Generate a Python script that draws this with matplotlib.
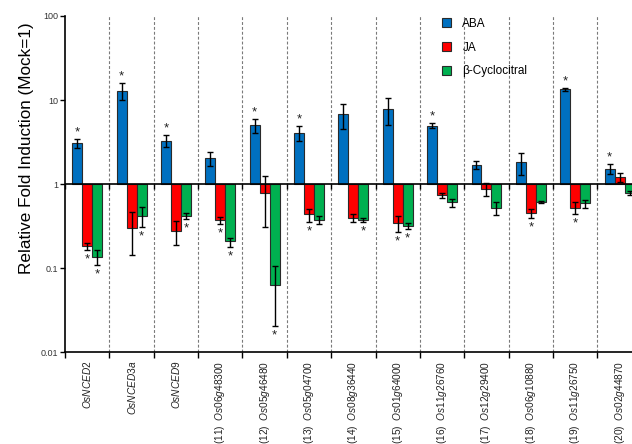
import numpy as np
import matplotlib
matplotlib.use("Agg")
import matplotlib.pyplot as plt
from matplotlib.patches import Patch
from matplotlib.markers import TICKDOWN
from matplotlib.ticker import FixedLocator, NullLocator, FixedFormatter

plt.rcParams['font.family'] = ['Liberation Sans', 'DejaVu Sans']
plt.rcParams['mathtext.fontset'] = 'custom'
plt.rcParams['mathtext.it'] = 'Liberation Sans:italic'
plt.rcParams['mathtext.rm'] = 'Liberation Sans'

# ---- data -------------------------------------------------------------
genes = ['OsNCED2', 'OsNCED3a', 'OsNCED9', 'Os06g48300', 'Os05g46480',
         'Os05g04700', 'Os08g36440', 'Os01g64000', 'Os11g26760',
         'Os12g29400', 'Os06g10880', 'Os11g26750', 'Os02g44870']
gene_nums = ['', '', '', '(11)', '(12)', '(13)', '(14)', '(15)', '(16)',
             '(17)', '(18)', '(19)', '(20)']

aba = [3.05, 12.9, 3.22, 2.02, 5.0, 4.08, 6.76, 7.8, 4.94, 1.70, 1.81, 13.4, 1.51]
aba_hi = [3.40, 15.8, 3.80, 2.40, 6.0, 4.9, 9.0, 10.6, 5.3, 1.89, 2.36, 13.9, 1.71]
aba_lo = [2.68, 10.0, 2.78, 1.64, 4.0, 3.27, 4.5, 5.1, 4.6, 1.51, 1.28, 12.9, 1.31]
aba_sig = [1, 1, 1, 0, 1, 1, 0, 0, 1, 0, 0, 1, 1]

ja = [0.183, 0.30, 0.276, 0.37, 0.775, 0.436, 0.39, 0.346, 0.733, 0.865, 0.448, 0.513, 1.21]
ja_hi = [0.20, 0.47, 0.36, 0.41, 1.245, 0.51, 0.435, 0.42, 0.79, 1.02, 0.50, 0.605, 1.34]
ja_lo = [0.164, 0.144, 0.19, 0.33, 0.31, 0.355, 0.35, 0.27, 0.69, 0.72, 0.39, 0.436, 1.065]
ja_sig = [1, 0, 0, 1, 0, 1, 0, 1, 0, 0, 1, 1, 0]

cyc = [0.134, 0.42, 0.412, 0.208, 0.062, 0.376, 0.37, 0.316, 0.605, 0.513, 0.605, 0.594, 0.775]
cyc_hi = [0.164, 0.53, 0.45, 0.226, 0.106, 0.42, 0.397, 0.34, 0.67, 0.605, 0.63, 0.645, 0.82]
cyc_lo = [0.108, 0.31, 0.38, 0.18, 0.0204, 0.33, 0.35, 0.29, 0.53, 0.43, 0.59, 0.52, 0.73]
cyc_sig = [1, 1, 1, 1, 1, 0, 1, 1, 0, 0, 0, 0, 0]

series = [
    ('ABA', '#0070C0', aba, aba_lo, aba_hi, aba_sig),
    ('JA', '#FF0000', ja, ja_lo, ja_hi, ja_sig),
    ('\u03b2-Cyclocitral', '#00B050', cyc, cyc_lo, cyc_hi, cyc_sig),
]

# ---- figure -----------------------------------------------------------
fig = plt.figure(figsize=(6.32, 4.44), dpi=100)
ax = fig.add_axes([65 / 632, 92 / 444, 567 / 632, 336 / 444])

n = len(genes)
centers = np.arange(n) + 0.5
dividers = np.arange(0, n + 1)
bw = 0.225
ax.set_yscale('log')
ax.set_ylim(0.01, 100)
ax.set_xlim(0, 12.78)

# group dividers
for d in dividers[1:-1]:
    ax.axvline(d, color='#7a7a7a', lw=0.8, ls=(0, (2.6, 1.8)), zorder=0)

# baseline at Mock = 1, with small ticks at the group boundaries
ax.axhline(1, color='black', lw=1.2, zorder=3)
ax.plot(dividers, np.ones(len(dividers)), ls='none', marker=TICKDOWN,
        ms=3.5, mew=1.0, color='black', zorder=3, clip_on=False)

for k, (name, col, vals, lo, hi, sig) in enumerate(series):
    xs = centers + (k - 1) * bw
    vals = np.asarray(vals)
    ax.bar(xs, vals - 1, bottom=1, width=bw, color=col, edgecolor='#2a2a2a',
           lw=0.8, zorder=2)
    yerr = np.vstack([vals - np.asarray(lo), np.asarray(hi) - vals])
    ax.errorbar(xs, vals, yerr=yerr, fmt='none', ecolor='black', elinewidth=1.0,
                capsize=2.5, capthick=1.0, zorder=4)
    for xi, v, l, h, s in zip(xs, vals, lo, hi, sig):
        if not s:
            continue
        if v >= 1:
            ax.annotate('*', xy=(xi, h), xytext=(0, 0.5), textcoords='offset points',
                        ha='center', va='bottom', fontsize=9.5, color='#222222')
        else:
            ax.annotate('*', xy=(xi, l), xytext=(0, -2.5), textcoords='offset points',
                        ha='center', va='top', fontsize=9.5, color='#222222')

# axes styling
for s in ['top', 'right']:
    ax.spines[s].set_visible(False)
for s in ['left', 'bottom']:
    ax.spines[s].set_linewidth(1.2)

ax.yaxis.set_major_locator(FixedLocator([0.01, 0.1, 1, 10, 100]))
ax.yaxis.set_major_formatter(FixedFormatter(['0.01', '0.1', '1', '10', '100']))
ax.yaxis.set_minor_locator(NullLocator())
ax.tick_params(axis='y', length=3.5, width=1.0, labelsize=6.5, labelcolor='#333333', pad=1.5)

labels = []
for num, g in zip(gene_nums, genes):
    lab = r'$\mathit{%s}$' % g
    labels.append((num + '  ' + lab) if num else lab)
ax.xaxis.set_major_locator(FixedLocator(dividers))
ax.xaxis.set_major_formatter(FixedFormatter([''] * len(dividers)))
ax.xaxis.set_minor_locator(FixedLocator(centers))
ax.xaxis.set_minor_formatter(FixedFormatter(labels))
ax.tick_params(axis='x', which='major', length=4, width=1.0)
ax.tick_params(axis='x', which='minor', length=0, pad=6, labelsize=7.3,
               labelrotation=90, labelcolor='#222222')

ax.set_ylabel('Relative Fold Induction (Mock=1)', fontsize=12.3)
ax.yaxis.set_label_coords(-0.054, 0.607)

handles = [Patch(facecolor=c, edgecolor='#2a2a2a', lw=0.8) for _, c, *_ in series]
ax.legend(handles, [s[0] for s in series], loc='upper left',
          bbox_to_anchor=(437 / 632, 1 - 13 / 444), bbox_transform=fig.transFigure,
          frameon=False, fontsize=8.5, handlelength=0.75, handleheight=0.75,
          handletextpad=1.0, labelspacing=1.0, borderaxespad=0)

fig.savefig('out.png', dpi=100)
